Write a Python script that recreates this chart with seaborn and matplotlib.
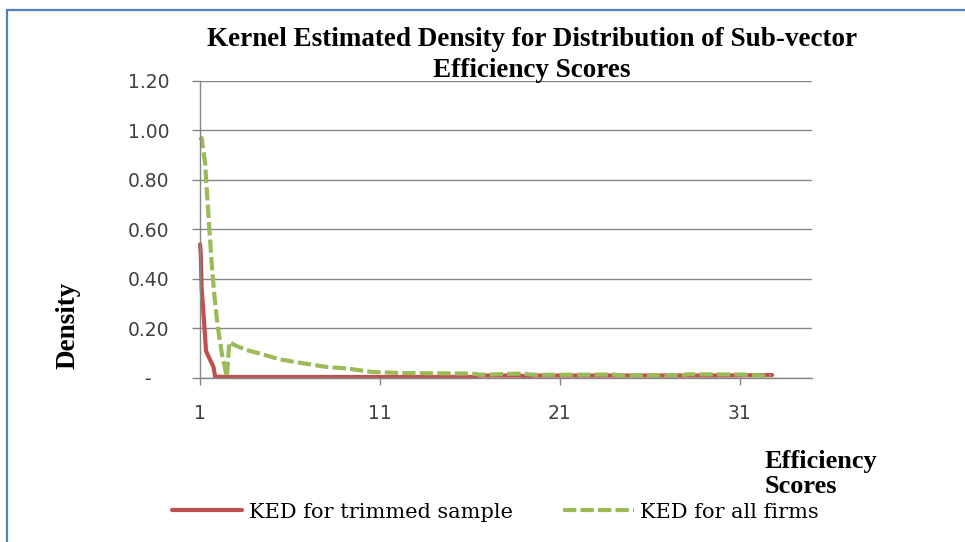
import pandas as pd
import matplotlib.pyplot as plt
import seaborn as sns

# values
trim_x = [1.0, 1.04, 1.09, 1.22, 1.33, 1.55, 1.74, 1.84, 3.0, 6.0, 10.0, 13.0,
          16.2, 16.5, 18.8, 19.2, 19.5, 25.0, 30.0, 32.8]
trim_y = [0.54, 0.50, 0.36, 0.23, 0.11, 0.075, 0.046, 0.005, 0.004, 0.004, 0.004, 0.004,
          0.004, 0.010, 0.010, 0.004, 0.010, 0.010, 0.010, 0.012]

all_x = [1.0, 1.09, 1.28, 1.41, 1.52, 1.65, 1.80, 1.98, 2.21, 2.49, 2.63, 3.0, 3.6,
         4.5, 5.45, 6.5, 8.0, 9.2, 10.6, 12.3, 14.0, 16.1, 16.6, 18.9, 19.5, 22.0,
         24.0, 24.3, 27.7, 28.1, 31.1, 32.7]
all_y = [0.96, 0.97, 0.87, 0.72, 0.60, 0.46, 0.33, 0.21, 0.10, 0.005, 0.145, 0.13, 0.113,
         0.095, 0.075, 0.062, 0.045, 0.038, 0.024, 0.020, 0.019, 0.018, 0.013, 0.018, 0.013, 0.013,
         0.014, 0.010, 0.011, 0.015, 0.014, 0.008]

series_names = ["KED for trimmed sample", "KED for all firms"]
y_ticks = [0, 0.2, 0.4, 0.6, 0.8, 1.0, 1.2]
y_labels = ["-   ", "0.20", "0.40", "0.60", "0.80", "1.00", "1.20"]
x_ticks = [1, 11, 21, 31]

df = pd.concat([
    pd.DataFrame({"score": trim_x, "density": trim_y, "series": series_names[0]}),
    pd.DataFrame({"score": all_x, "density": all_y, "series": series_names[1]}),
])

sns.set_style("white")
plt.rcParams['font.family'] = ['DejaVu Sans']
plt.rcParams['text.color'] = 'black'

fig = plt.figure(figsize=(9.65, 5.42), dpi=100)
ax = fig.add_axes([0.2073, 0.3026, 0.6339, 0.548])

grid_col = "#868686"
sns.lineplot(data=df, x="score", y="density", hue="series", style="series",
             hue_order=series_names, style_order=series_names,
             palette={series_names[0]: "#C0504D", series_names[1]: "#9BBB59"},
             dashes={series_names[0]: "", series_names[1]: (3.2, 1.0)},
             estimator=None, sort=False, lw=3, clip_on=False, ax=ax)

ax.set_xlim(1, 35)
ax.set_ylim(0, 1.2)
ax.set_yticks(y_ticks)
ax.set_yticklabels(y_labels)
ax.set_xticks(x_ticks)
ax.set_xlabel("")
ax.set_ylabel("")
ax.yaxis.grid(True, color=grid_col, lw=1)
ax.set_axisbelow(True)
for s in ["top", "right"]:
    ax.spines[s].set_visible(False)
for s in ["left", "bottom"]:
    ax.spines[s].set_color(grid_col)
    ax.spines[s].set_linewidth(1)
ax.tick_params(axis="y", direction="out", length=6, width=1, color=grid_col,
               pad=16, labelsize=13.5, labelcolor="#404040", left=True)
ax.tick_params(axis="x", direction="out", length=5, width=1, color=grid_col,
               pad=14, labelsize=13.5, labelcolor="#404040", bottom=True)

handles, labels = ax.get_legend_handles_labels()
ax.get_legend().remove()
fig.legend(handles, labels, loc="center", bbox_to_anchor=(0.513, 1 - 512 / 542), ncol=2,
           frameon=False, handlelength=3.4, handletextpad=0.3, columnspacing=2.4,
           prop={"family": "DejaVu Serif", "size": 15})

fig.text(532 / 965, 1 - 27 / 542,
         "Kernel Estimated Density for Distribution of Sub-vector\nEfficiency Scores",
         ha="center", va="top", fontsize=19.5, fontweight="bold",
         family="Liberation Serif", linespacing=1.3)
fig.text(68 / 965, 1 - 325 / 542, "Density", rotation=90, ha="center", va="center",
         fontsize=19.5, fontweight="bold", family="Liberation Serif")
fig.text(765 / 965, 1 - 450 / 542, "Efficiency\nScores", ha="left", va="top",
         fontsize=19, fontweight="bold", family="Liberation Serif", linespacing=1.1)

# chart border (only top and left edges show in the crop)
border = "#4F81BD"
fig.add_artist(plt.Line2D([6.5 / 965, 6.5 / 965], [0, 1 - 10 / 542], transform=fig.transFigure,
                          color=border, lw=1.6))
fig.add_artist(plt.Line2D([6.5 / 965, 1], [1 - 10 / 542, 1 - 10 / 542], transform=fig.transFigure,
                          color=border, lw=1.6))

fig.savefig("out.png", dpi=100)
